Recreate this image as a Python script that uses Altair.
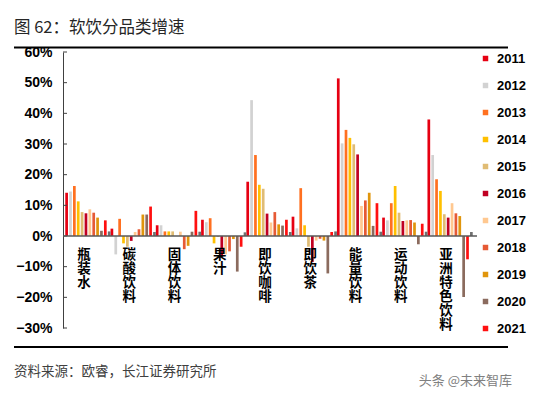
import altair as alt
import pandas as pd

categories = ["瓶装水", "碳酸饮料", "固体饮料", "果汁", "即饮咖啡", "即饮茶", "能量饮料", "运动饮料", "亚洲特色饮料"]
years = ["2011", "2012", "2013", "2014", "2015", "2016", "2017", "2018", "2019", "2020", "2021"]
extra_name = "其他"

v2011 = [14.1, 2.4, 3.5, 5.3, 17.7, 6.3, 51.4, 6.0, 38.0]
v2012 = [14.5, -6.0, 3.5, 4.5, 44.3, 2.5, 30.2, 5.1, 26.4]
v2013 = [16.3, 5.6, 1.5, 5.8, 26.4, 15.6, 34.6, 10.7, 18.5]
v2014 = [11.3, -2.4, 1.5, -2.4, 16.7, 3.5, 32.0, 16.3, 14.7]
v2015 = [7.8, -3.5, 1.5, -0.3, 15.4, -3.5, 29.9, 7.6, 7.1]
v2016 = [7.4, -1.6, 0.0, -6.8, 7.3, -8.5, 26.6, 4.9, 6.0]
v2017 = [8.7, 1.3, 1.4, -6.0, 4.4, -1.5, 9.8, 5.1, 10.7]
v2018 = [7.6, 2.2, -4.3, -5.0, 7.8, -0.9, 11.6, 5.2, 7.4]
v2019 = [6.0, 7.0, -3.2, -1.0, 3.8, -1.5, 14.1, 4.4, 6.5]
v2020 = [1.7, 7.0, 1.4, -11.6, 3.4, -12.2, 3.3, -2.7, -19.9]
v2021 = [5.1, 9.6, 8.2, -3.5, 5.3, 1.3, 10.7, 4.0, -7.6]
v_extra = [1.5, 1.3, 1.4, 1.2, 1.3, 1.5, 1.4, 1.4, 1.3]

tick_values = [-0.3, -0.2, -0.1, 0.0, 0.1, 0.2, 0.3, 0.4, 0.5, 0.6]

title_text = "图 62：软饮分品类增速"
source_text = "资料来源：欧睿，长江证券研究所"
watermark_text = "头条 @未来智库"

colors = ["#E60012", "#D2D2D2", "#FF7020", "#FFC000", "#E0BC74", "#C00022",
          "#FFC890", "#E65A35", "#E0950C", "#8B6B5E", "#FF1010", "#707070"]

series_all = years + [extra_name]
all_vals = [v2011, v2012, v2013, v2014, v2015, v2016, v2017, v2018, v2019, v2020, v2021, v_extra]

rows = []
for s, vals in zip(series_all, all_vals):
    for c, v in zip(categories, vals):
        rows.append({"cat": c, "series": s, "value": v / 100.0})
df = pd.DataFrame(rows)

W, H = 412, 276
CJK = "Noto Sans CJK SC"
LAT = "Liberation Sans"

xscale = alt.Scale(domain=categories, paddingInner=0, paddingOuter=0.05)
yscale = alt.Scale(domain=[-0.3, 0.6], nice=False, zero=False)
yaxis = alt.Axis(values=tick_values, format=".0%", grid=False, ticks=False, tickSize=0,
                 labelFont=LAT, labelFontSize=14, labelFontWeight="bold", labelColor="#000000",
                 labelPadding=11, domainColor="#404040", domainWidth=1, title=None)

bars = alt.Chart(df).mark_bar().encode(
    x=alt.X("cat:N", scale=xscale, axis=None, sort=categories),
    xOffset=alt.XOffset("series:N", sort=series_all, scale=alt.Scale(domain=series_all, paddingInner=0.3)),
    y=alt.Y("value:Q", scale=yscale, axis=yaxis),
    color=alt.Color("series:N", scale=alt.Scale(domain=series_all, range=colors),
                    legend=alt.Legend(values=years, orient="none", legendX=416, legendY=0, title=None,
                                      symbolType="square", symbolSize=30, symbolStrokeWidth=0,
                                      labelFont=LAT, labelFontSize=13, labelFontWeight="bold",
                                      labelColor="#000000", rowPadding=13, labelOffset=5)),
)

ticks = alt.Chart(pd.DataFrame({"value": tick_values})).mark_rule(color="#404040", strokeWidth=1).encode(
    y=alt.Y("value:Q", scale=yscale, axis=yaxis),
    x=alt.value(0), x2=alt.value(4),
)

zero = alt.Chart(pd.DataFrame({"value": [0.0]})).mark_rule(color="#595959", strokeWidth=1.5).encode(
    y=alt.Y("value:Q", scale=yscale, axis=yaxis),
    x=alt.value(0), x2=alt.value(414),
)

labels_df = pd.DataFrame({"cat": categories, "lab": ["\n".join(list(c)) for c in categories]})
cat_labels = alt.Chart(labels_df).mark_text(
    font=CJK, fontSize=13.5, fontWeight="bold", color="#000000", lineBreak="\n",
    lineHeight=14, baseline="top", align="center", dx=-4,
).encode(
    x=alt.X("cat:N", scale=xscale, axis=None, sort=categories),
    y=alt.value(196),
    text="lab:N",
)

title = alt.Chart(pd.DataFrame({"t": [title_text]})).mark_text(
    font=CJK, fontSize=16.5, color="#262626", align="left", baseline="alphabetic"
).encode(x=alt.value(-49), y=alt.value(-19), text="t:N")

top_line = alt.Chart(pd.DataFrame({"a": [0]})).mark_rule(color="#000000", strokeWidth=2).encode(
    x=alt.value(-49), x2=alt.value(445), y=alt.value(-4.5))
bottom_line = alt.Chart(pd.DataFrame({"a": [0]})).mark_rule(color="#000000", strokeWidth=2).encode(
    x=alt.value(-49), x2=alt.value(445), y=alt.value(295))

source = alt.Chart(pd.DataFrame({"t": [source_text]})).mark_text(
    font=CJK, fontSize=13.5, color="#404040", align="left", baseline="middle"
).encode(x=alt.value(-49), y=alt.value(320), text="t:N")

watermark = alt.Chart(pd.DataFrame({"t": [watermark_text]})).mark_text(
    font=CJK, fontSize=13, color="#808080", align="right", baseline="middle"
).encode(x=alt.value(449), y=alt.value(329), text="t:N")

chart = alt.layer(bars, ticks, zero, cat_labels, title, top_line, bottom_line, source, watermark).properties(
    width=W, height=H,
    autosize=alt.AutoSizeParams(type="none"),
    padding={"left": 55, "top": 44, "right": 70, "bottom": 63},
).configure_view(stroke=None).configure_legend(padding=0)

chart.save("out.html", embed_options={"renderer": "svg", "actions": False})
